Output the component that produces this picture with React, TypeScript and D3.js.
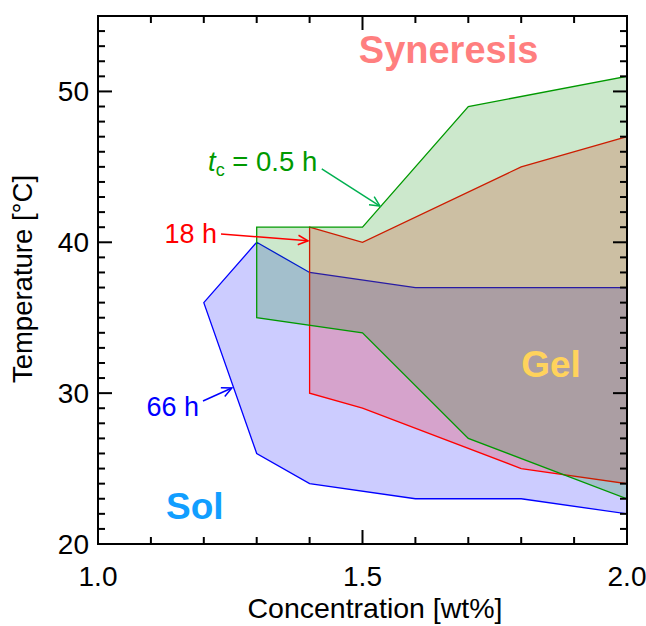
import React from "react";
import * as d3 from "d3";

// 66 h region
const blueConc = [1.2, 1.3, 1.4, 1.6, 2.0, 2.0, 1.8, 1.6, 1.4, 1.3];
const blueTemp = [36, 40, 38, 37, 37, 22, 23, 23, 24, 26];
// 18 h region
const redConc = [1.4, 1.5, 1.8, 2.0, 2.0, 1.8, 1.5, 1.4];
const redTemp = [41, 40, 45, 47, 24, 25, 29, 30];
// tc = 0.5 h region
const greenConc = [1.3, 1.5, 1.7, 2.0, 2.0, 1.7, 1.5, 1.3];
const greenTemp = [41, 41, 49, 51, 23, 27, 34, 35];

const xTickLabels = [1.0, 1.5, 2.0];
const yTickLabels = [20, 30, 40, 50];

const W = 646;
const H = 626;
const FONT = "'Liberation Sans', Arial, sans-serif";

export default function App() {
  const x = d3.scaleLinear().domain([1, 2]).range([98, 627]);
  const y = d3.scaleLinear().domain([20, 55]).range([544, 16]);

  const line = d3
    .line<[number, number]>()
    .x((d) => x(d[0]))
    .y((d) => y(d[1]))
    .curve(d3.curveLinearClosed);

  const regions = [
    { c: blueConc, t: blueTemp, fill: "rgba(0,0,255,0.2)", stroke: "#0000ff" },
    { c: redConc, t: redTemp, fill: "rgba(255,0,0,0.2)", stroke: "#ff0000" },
    { c: greenConc, t: greenTemp, fill: "rgba(0,140,0,0.2)", stroke: "#009900" },
  ];

  const xMinor = d3.range(1.0, 2.0001, 0.1);
  const yMinor = d3.range(20, 55.001, 1);

  const x0 = x(1), x1 = x(2), y0 = y(20), y1 = y(55);

  const arrow = (c0: number, t0: number, c1: number, t1: number, color: string) => {
    const ax = x(c0), ay = y(t0), bx = x(c1), by = y(t1);
    const ang = Math.atan2(by - ay, bx - ax);
    const L = 11, a = 0.45;
    const p1 = [bx - L * Math.cos(ang - a), by - L * Math.sin(ang - a)];
    const p2 = [bx - L * Math.cos(ang + a), by - L * Math.sin(ang + a)];
    return (
      <g stroke={color} strokeWidth={1.5} fill="none">
        <line x1={ax} y1={ay} x2={bx} y2={by} />
        <polyline points={`${p1[0]},${p1[1]} ${bx},${by} ${p2[0]},${p2[1]}`} />
      </g>
    );
  };

  return (
    <svg
      width={W}
      height={H}
      style={{ position: "absolute", left: 0, top: 0, background: "#fff" }}
      fontFamily={FONT}
    >
      <rect width={W} height={H} fill="#fff" />
      {regions.map((r, i) => (
        <path
          key={i}
          d={line(r.c.map((c, j) => [c, r.t[j]] as [number, number])) || ""}
          fill={r.fill}
          stroke={r.stroke}
          strokeWidth={1.3}
          strokeLinejoin="miter"
        />
      ))}

      {/* frame */}
      <rect x={x0} y={y1} width={x1 - x0} height={y0 - y1} fill="none" stroke="#000" strokeWidth={2} />
      {xMinor.map((v, i) => {
        const major = Math.abs(v * 2 - Math.round(v * 2)) < 1e-6;
        const len = major ? 14 : 7;
        return (
          <g key={"xt" + i} stroke="#000" strokeWidth={2}>
            <line x1={x(v)} x2={x(v)} y1={y0} y2={y0 - len} />
            <line x1={x(v)} x2={x(v)} y1={y1} y2={y1 + len} />
          </g>
        );
      })}
      {yMinor.map((v, i) => {
        const major = Math.round(v) % 10 === 0;
        const len = major ? 14 : 7;
        return (
          <g key={"yt" + i} stroke="#000" strokeWidth={2}>
            <line x1={x0} x2={x0 + len} y1={y(v)} y2={y(v)} />
            <line x1={x1} x2={x1 - len} y1={y(v)} y2={y(v)} />
          </g>
        );
      })}
      {xTickLabels.map((v) => (
        <text key={"xl" + v} x={x(v)} y={586} textAnchor="middle" fontSize={28} fill="#000">
          {v.toFixed(1)}
        </text>
      ))}
      {yTickLabels.map((v) => (
        <text key={"yl" + v} x={89} y={y(v) + 10} textAnchor="end" fontSize={28} fill="#000">
          {v}
        </text>
      ))}
      <text x={375} y={618} textAnchor="middle" fontSize={28.5} fill="#000">
        Concentration [wt%]
      </text>
      <text
        transform={`translate(32,279) rotate(-90)`}
        textAnchor="middle"
        fontSize={27.5}
        fill="#000"
      >
        Temperature [°C]
      </text>

      {/* annotations */}
      <text x={x(1.493)} y={y(51.88)} fontSize={38} fontWeight="bold" fill="#ff7f7f">
        Syneresis
      </text>
      <text x={x(1.8)} y={y(31.07)} fontSize={37} fontWeight="bold" fill="#ffd35c">
        Gel
      </text>
      <text x={x(1.1285)} y={y(21.66)} fontSize={37} fontWeight="bold" fill="#119eff">
        Sol
      </text>

      <text x={x(1.208)} y={y(44.72)} fontSize={27.5} fill="#009900">
        <tspan fontStyle="italic">t</tspan>
        <tspan fontSize={18} dy={5}>c</tspan>
        <tspan dy={-5}> = 0.5 h</tspan>
      </text>
      {arrow(1.423, 44.86, 1.533, 42.4, "#00b050")}

      <text x={x(1.225)} y={y(39.95)} fontSize={27} fill="#ff0000" textAnchor="end">
        18 h
      </text>
      {arrow(1.2325, 40.55, 1.397, 40.1, "#ff0000")}

      <text x={x(1.191)} y={y(28.48)} fontSize={27} fill="#0000ff" textAnchor="end">
        66 h
      </text>
      {arrow(1.1985, 29.48, 1.253, 30.34, "#0000ff")}
    </svg>
  );
}
